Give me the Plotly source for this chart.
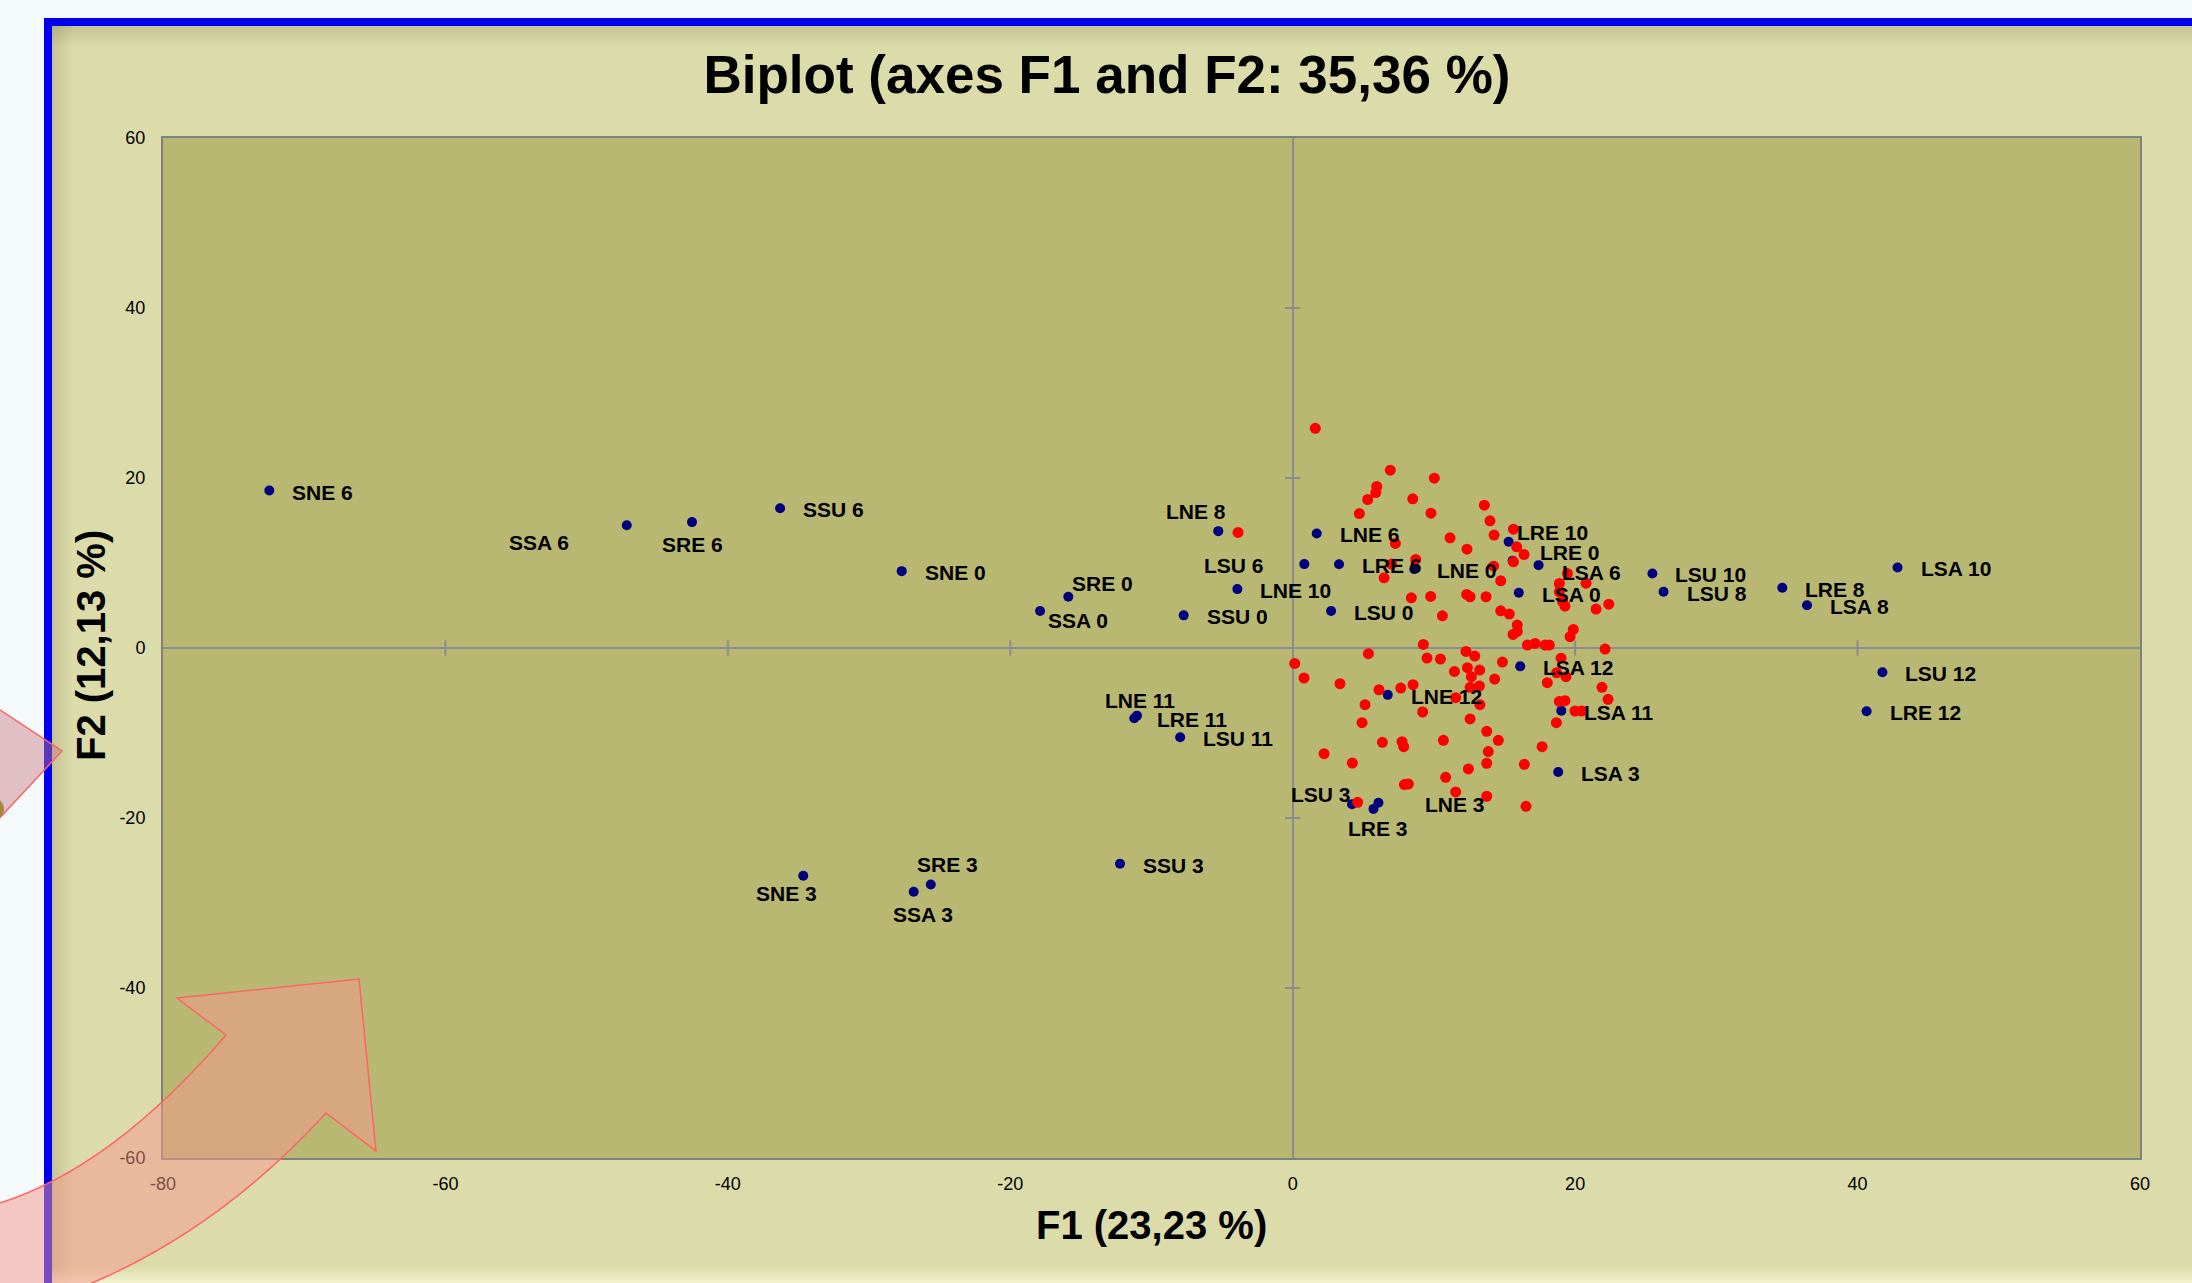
import plotly.graph_objects as go

# ---------------- data ----------------
obs_labels = ["SNE 6", "SSA 6", "SRE 6", "SSU 6", "SNE 0", "SRE 0", "SSA 0", "SSU 0",
              "LNE 8", "LSU 6", "LNE 10", "LNE 6", "LRE 6", "LNE 0", "LSU 0",
              "LRE 10", "LRE 0", "LSA 6", "LSA 0", "LSU 10", "LSU 8", "LRE 8", "LSA 8",
              "LSA 10", "LSU 12", "LRE 12", "LSA 12", "LNE 12", "LSA 11", "LSA 3",
              "LSU 3", "LRE 3", "LNE 3", "LNE 11", "LRE 11", "LSU 11",
              "SSU 3", "SNE 3", "SSA 3", "SRE 3"]
obs_f1 = [-72.47, -47.16, -42.54, -36.3, -27.69, -15.89, -17.89, -7.72,
          -5.27, 0.82, -3.92, 1.70, 3.28, 8.61, 2.72,
          15.29, 15.57, 17.41, 16.01, 25.47, 26.26, 34.67, 36.42,
          42.83, 41.76, 40.64, 16.11, 6.73, 19.02, 18.8,
          4.2, 5.72, 6.07, -11.03, -11.22, -7.97,
          -12.23, -34.66, -26.84, -25.63]
obs_f2 = [18.53, 14.45, 14.81, 16.44, 9.04, 6.03, 4.35, 3.84,
          13.75, 9.87, 6.93, 13.48, 9.85, 9.28, 4.35,
          12.5, 10.26, 9.75, 6.5, 8.77, 6.62, 7.09, 5.02,
          9.48, -2.86, -7.44, -2.16, -5.51, -7.37, -14.58,
          -18.38, -18.93, -18.2, -7.96, -8.26, -10.5,
          -25.39, -26.8, -28.68, -27.82]

var_f1 = [1.6, 6.91, 10.03, 5.95, 5.88, 5.31, 8.5, 4.72, 9.79, 13.57,
          13.97, 14.26, 15.63, 11.14, 7.27, 12.34, 15.86, 16.38, 15.63, 8.71,
          7.0, 6.47, 14.23, 14.73, 19.45, 20.77, 18.88, 18.88, 19.28, 19.1,
          21.48, 22.38, 8.4, 9.77, 12.32, 12.56, 13.69, 10.6, 14.73, 15.34,
          -3.87, 15.9, 15.6, 15.9, 19.87, 19.64, 16.62, 17.16, 17.87, 18.17,
          22.12, 9.25, 5.36, 0.14, 0.8, 3.35, 9.51, 10.46, 12.27, 12.89,
          14.85, 11.45, 12.37, 13.24, 12.65, 14.3, 8.52, 7.65, 6.11, 12.56,
          13.22, 11.54, 13.26, 5.12, 9.2, 4.91, 12.56, 18.88, 19.28, 19.99,
          20.46, 18.67, 18.03, 18.69, 19.0, 19.35, 21.9, 22.33, 13.74, 14.56,
          13.85, 13.74, 10.67, 7.74, 7.86, 6.35, 2.22, 4.22, 17.66, 16.4,
          12.44, 10.83, 7.91, 8.19, 11.54, 13.74, 16.52, 4.6]
var_f2 = [25.85, 20.92, 19.98, 19.0, 18.29, 17.47, 17.55, 15.82, 15.86, 16.8,
          14.96, 13.28, 13.98, 12.96, 12.3, 11.63, 11.9, 11.0, 10.14, 10.42,
          9.87, 8.26, 9.63, 7.91, 8.77, 7.63, 7.59, 6.61, 4.93, 5.5,
          4.58, 5.16, 5.91, 6.07, 6.3, 6.03, 6.03, 3.79, 4.38, 3.99,
          13.6, 2.7, 1.6, 1.95, 2.19, 1.33, 0.35, 0.54, 0.35, 0.35,
          -0.12, 0.42, -0.67, -1.81, -3.53, -4.2, -1.18, -1.3, -0.4, -0.95,
          -1.65, -2.75, -2.32, -2.59, -3.38, -3.65, -4.32, -4.71, -4.91, -4.63,
          -4.47, -5.85, -6.67, -6.67, -7.53, -8.78, -8.35, -6.28, -6.2, -7.41,
          -7.41, -8.78, -4.08, -2.91, -1.2, -3.38, -4.63, -6.04, -9.8, -10.86,
          -12.19, -13.57, -10.86, -11.02, -11.61, -11.1, -12.43, -13.53, -11.61, -13.68,
          -14.23, -15.21, -16.07, -16.0, -16.93, -17.44, -18.62, -18.15]

x_ticks = [-80, -60, -40, -20, 0, 20, 40, 60]
x_tick_labels = ["-80", "-60", "-40", "-20", "0", "20", "40", "60"]
y_ticks = [-60, -40, -20, 0, 20, 40, 60]
y_tick_labels = ["-60", "-40", "-20", "0", "20", "40", "60"]
axis_cross_x = [-60, -40, -20, 20, 40]
axis_cross_y = [-40, -20, 20, 40]

title_text = "Biplot (axes F1 and F2: 35,36 %)"
x_title = "F1 (23,23 %)"
y_title = "F2 (12,13 %)"

# ---------------- styling / layout ----------------
W, H = 2192, 1283
ML, MR, MT, MB = 163, 52, 138, 125
PW, PH = W - ML - MR, H - MT - MB
FONT = "Liberation Sans, Arial, sans-serif"


def px(x):
    return (x - ML) / PW


def py(y):
    return (H - MB - y) / PH


# label placement: (anchor, dx px, dy px downwards)
DEFAULT_PLACE = ("left", 21, 1.5)
LABEL_PLACE = {
    "SSA 6": ("right", -56, 17),
    "SRE 6": ("center", 1, 22),
    "SNE 3": ("center", -17, 18),
    "SSA 3": ("center", 9, 23),
    "SRE 3": ("center", 17, -20),
    "LNE 8": ("center", -22, -20),
    "LSU 6": ("right", -38, 1),
    "SRE 0": ("left", 2, -13),
    "SSA 0": ("left", 6, 9),
    "LNE 11": ("center", 3, -15),
    "LSU 3": ("right", 1, -10),
    "LRE 3": ("center", 5, 20),
    "LNE 3": ("left", 45, 2),
    "LRE 10": ("left", 6, -9),
    "LRE 0": ("left", 25, -8),
    "LSA 6": ("left", 21, 7),
}

fig = go.Figure()

# small cross ticks on the zero axes
fig.add_trace(go.Scatter(x=axis_cross_x, y=[0] * len(axis_cross_x), mode="markers",
                         marker=dict(symbol="line-ns", size=11,
                                     line=dict(color="#8C8C8C", width=2)),
                         hoverinfo="skip", showlegend=False))
fig.add_trace(go.Scatter(x=[0] * len(axis_cross_y), y=axis_cross_y, mode="markers",
                         marker=dict(symbol="line-ew", size=11,
                                     line=dict(color="#8C8C8C", width=2)),
                         hoverinfo="skip", showlegend=False))

fig.add_trace(go.Scatter(x=obs_f1, y=obs_f2, mode="markers", text=obs_labels,
                         marker=dict(color="#00007F", size=10, line=dict(width=0)),
                         showlegend=False))
fig.add_trace(go.Scatter(x=var_f1, y=var_f2, mode="markers",
                         marker=dict(color="#FF0000", size=11, line=dict(width=0)),
                         showlegend=False))

annotations = []
for lab, xv, yv in zip(obs_labels, obs_f1, obs_f2):
    anc, dx, dy = LABEL_PLACE.get(lab, DEFAULT_PLACE)
    annotations.append(dict(x=xv, y=yv, xref="x", yref="y", text=lab, showarrow=False,
                            xanchor=anc, yanchor="middle", xshift=dx, yshift=-dy,
                            font=dict(family=FONT, size=21, color="black", weight="bold")))

annotations.append(dict(x=0.5, y=py(1225), xref="paper", yref="paper", text=x_title,
                        showarrow=False, xanchor="center", yanchor="middle",
                        font=dict(family=FONT, size=40, color="black", weight="bold")))
annotations.append(dict(x=px(91), y=py(646), xref="paper", yref="paper", text=y_title,
                        showarrow=False, xanchor="center", yanchor="middle", textangle=-90,
                        font=dict(family=FONT, size=40, color="black", weight="bold")))

OUT = "#F4F9FB"
shapes = []
# outside area (left and top strips)
shapes.append(dict(type="rect", xref="paper", yref="paper", x0=px(-5), x1=px(44), y0=py(H + 5), y1=py(-5),
                   fillcolor=OUT, line=dict(width=0), layer="below"))
shapes.append(dict(type="rect", xref="paper", yref="paper", x0=px(-5), x1=px(W + 5), y0=py(18), y1=py(-5),
                   fillcolor=OUT, line=dict(width=0), layer="below"))
# inner shadows
for i in range(10):
    a = 0.22 * (1 - i / 10)
    shapes.append(dict(type="rect", xref="paper", yref="paper", x0=px(52 + 2 * i), x1=px(54 + 2 * i),
                       y0=py(H + 5), y1=py(26), fillcolor=f"rgba(110,110,70,{a:.3f})",
                       line=dict(width=0), layer="below"))
for i in range(10):
    a = 0.22 * (1 - i / 10)
    shapes.append(dict(type="rect", xref="paper", yref="paper", x0=px(52), x1=px(W + 5),
                       y0=py(28 + 2 * i), y1=py(26 + 2 * i), fillcolor=f"rgba(110,110,70,{a:.3f})",
                       line=dict(width=0), layer="below"))
for i in range(8):
    a = 0.6 * (i + 1) / 8
    shapes.append(dict(type="rect", xref="paper", yref="paper", x0=px(52), x1=px(W + 5),
                       y0=py(1268 + 2 * i + 2), y1=py(1268 + 2 * i), fillcolor=f"rgba(255,255,230,{a:.3f})",
                       line=dict(width=0), layer="below"))
# blue frame
shapes.append(dict(type="rect", xref="paper", yref="paper", x0=px(44), x1=px(52), y0=py(H + 5), y1=py(18),
                   fillcolor="#0000EE", line=dict(width=0), layer="below"))
shapes.append(dict(type="rect", xref="paper", yref="paper", x0=px(44), x1=px(W + 5), y0=py(26), y1=py(18),
                   fillcolor="#0000EE", line=dict(width=0), layer="below"))


def P(x, y):
    return f"{px(x):.5f},{py(y):.5f}"


big_arrow = ("M " + P(-20, 1215) + " L " + P(0, 1203) + " Q " + P(113, 1167) + " " + P(226, 1035)
             + " L " + P(177, 998) + " L " + P(359, 979) + " L " + P(376, 1151) + " L " + P(326, 1113)
             + " Q " + P(221, 1228) + " " + P(92, 1283) + " L " + P(50, 1310) + " L " + P(-20, 1310) + " Z")
shapes.append(dict(type="path", xref="paper", yref="paper", path=big_arrow,
                   fillcolor="rgba(245,150,140,0.5)", line=dict(color="#FF6464", width=1.5), layer="above"))
small_arrow = "M " + P(-30, 690) + " L " + P(62, 751) + " L " + P(-30, 850) + " Z"
shapes.append(dict(type="path", xref="paper", yref="paper", path=small_arrow,
                   fillcolor="rgba(200,120,130,0.45)", line=dict(color="#FF6464", width=1.5), layer="above"))
shapes.append(dict(type="circle", xref="paper", yref="paper", x0=px(-18), x1=px(4), y0=py(820), y1=py(798),
                   fillcolor="#A68A3C", line=dict(width=0), layer="above"))

axis_common = dict(showgrid=False, zeroline=True, zerolinecolor="#8C8C8C", zerolinewidth=2,
                   showline=True, mirror=True, linecolor="#808080", linewidth=2,
                   ticks="", tickfont=dict(family=FONT, size=18, color="black"),
                   automargin=False, fixedrange=True)

fig.update_layout(
    template="none",
    width=W, height=H,
    margin=dict(l=ML, r=MR, t=MT, b=MB, pad=0),
    paper_bgcolor="#DCDCAB",
    plot_bgcolor="#B8B872",
    title=dict(text=title_text, x=1107 / W, xref="container", xanchor="center",
               y=1 - 74 / H, yref="container", yanchor="middle",
               font=dict(family=FONT, size=53, color="black", weight="bold")),
    xaxis=dict(range=[-80, 60], tickvals=x_ticks, ticktext=x_tick_labels,
               ticklabelstandoff=8, **axis_common),
    yaxis=dict(range=[-60, 60], tickvals=y_ticks, ticktext=y_tick_labels,
               ticklabelstandoff=12, **axis_common),
    annotations=annotations,
    shapes=shapes,
    showlegend=False,
)

fig.write_html("out.html", config={"displayModeBar": False},
               post_script="document.body.style.margin='0';document.body.style.overflow='hidden';")
